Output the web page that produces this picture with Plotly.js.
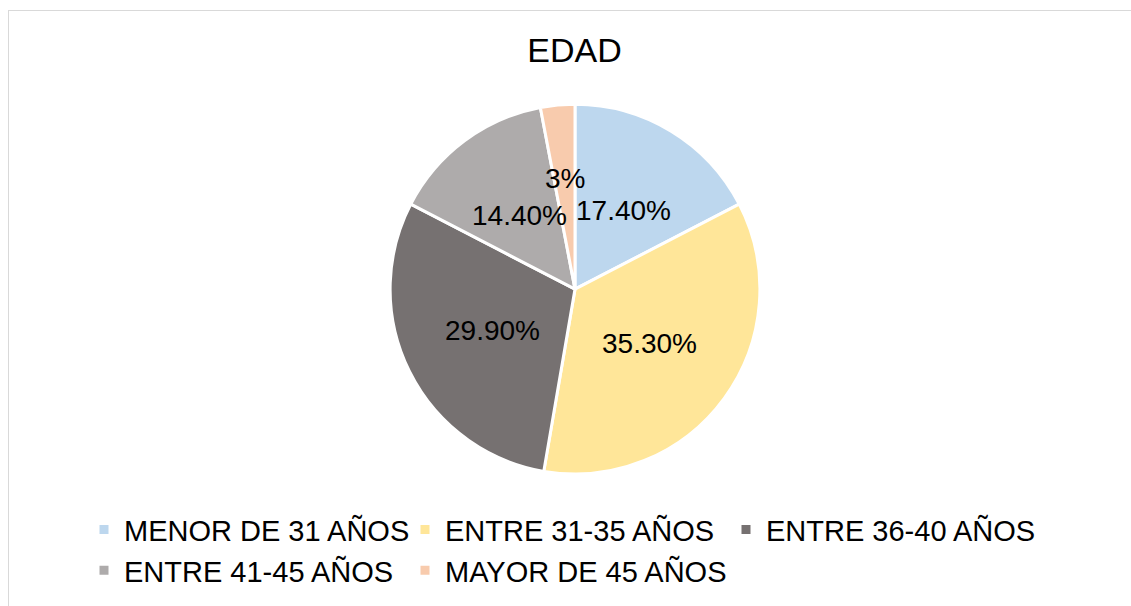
<!DOCTYPE html>
<html>
<head>
<meta charset="utf-8">
<script src="https://cdn.plot.ly/plotly-3.0.1.min.js"></script>
<style>
html,body{margin:0;padding:0;overflow:hidden;background:#fff;}
#frame{position:absolute;left:8px;top:10px;width:1200px;height:700px;border:1px solid #d9d9d9;box-sizing:border-box;}
#chart{position:absolute;left:0;top:0;width:1131px;height:606px;}
</style>
</head>
<body>
<div id="frame"></div>
<div id="chart"></div>
<script>
const categories = ["MENOR DE 31 AÑOS", "ENTRE 31-35 AÑOS", "ENTRE 36-40 AÑOS", "ENTRE 41-45 AÑOS", "MAYOR DE 45 AÑOS"];
const values = [17.4, 35.3, 29.9, 14.4, 3];
const labelsText = ["17.40%", "35.30%", "29.90%", "14.40%", "3%"];
const colors = ["#BDD7EE", "#FFE699", "#767171", "#AEABAB", "#F8CBAD"];

// label distance from centre as a fraction of the radius (style, Excel "best fit")
const labelRadius = [0.5, 0.5, 0.5, 0.5, 0.6];

const font = "Liberation Sans, Arial, sans-serif";

const trace = {
  type: "pie",
  labels: categories,
  values: values,
  text: labelsText,
  textinfo: "none",
  textposition: "none",
  sort: false,
  direction: "clockwise",
  rotation: 0,
  marker: {colors: colors, line: {color: "#ffffff", width: 3}},
  domain: {x: [0.0168, 1], y: [0.2178, 0.828]},
  hoverinfo: "label+percent"
};

const layout = {
  width: 1131,
  height: 606,
  margin: {l: 0, r: 0, t: 0, b: 0},
  paper_bgcolor: "rgba(0,0,0,0)",
  plot_bgcolor: "rgba(0,0,0,0)",
  title: {text: "EDAD", font: {family: font, size: 34, color: "#000000"}, x: 0.508, xanchor: "center", y: 0.918, yanchor: "middle", yref: "paper"},
  showlegend: true,
  legend: {orientation: "h", x: 0.5, xanchor: "center", y: 0.168, yanchor: "top", entrywidth: 276, entrywidthmode: "pixels",
           font: {family: font, size: 29, color: "#000000"}}
};

Plotly.newPlot("chart", [trace], layout, {displayModeBar: false, staticPlot: true}).then(function(gd) {
  const cd = gd.calcdata[0];
  const c0 = cd[0];
  const sz = gd._fullLayout._size;
  const total = values.reduce((a, b) => a + b, 0);
  let cum = 0;
  const anns = cd.map(function(pt, i) {
    let mx, my;
    if (pt.pxmid) {
      mx = pt.pxmid[0]; my = pt.pxmid[1];
    } else {
      const a = 2 * Math.PI * (cum + values[i] / 2) / total;
      mx = c0.r * Math.sin(a); my = -c0.r * Math.cos(a);
    }
    cum += values[i];
    const px = c0.cx + labelRadius[i] * mx;
    const py = c0.cy + labelRadius[i] * my;
    return {
      xref: "paper", yref: "paper",
      x: (px - sz.l) / sz.w, y: 1 - (py - sz.t) / sz.h,
      xanchor: "center", yanchor: "middle",
      text: labelsText[i], showarrow: false,
      font: {family: font, size: 28, color: "#000000"}
    };
  });
  return Plotly.relayout(gd, {annotations: anns});
});
</script>
</body>
</html>
